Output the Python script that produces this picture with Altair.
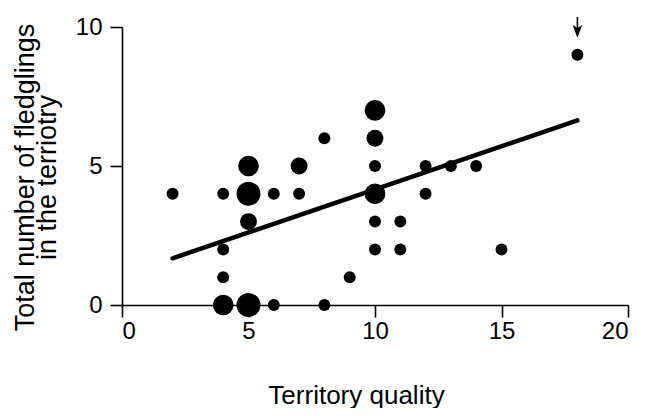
import altair as alt
import pandas as pd

# Territory quality (x), total fledglings (y), number of territories at that point (n)
quality = [2, 4, 4, 4, 4, 5, 5, 5, 5, 6, 6, 7, 7, 8, 8, 9,
           10, 10, 10, 10, 10, 10, 11, 11, 12, 12, 13, 14, 15, 18]
fledglings = [4, 4, 2, 1, 0, 5, 4, 3, 0, 4, 0, 5, 4, 6, 0, 1,
              7, 6, 5, 4, 3, 2, 3, 2, 5, 4, 5, 5, 2, 9]
count = [1, 1, 1, 1, 3, 3, 4, 2, 4, 1, 1, 2, 1, 1, 1, 1,
         3, 2, 1, 3, 1, 1, 1, 1, 1, 1, 1, 1, 1, 1]

# Fitted regression line end points
fit_x = [2, 18]
fit_y = [1.68, 6.64]

# Arrow marking the outlier territory
arrow_x = [18]
arrow_top = [10.36]
arrow_tip = [9.85]

x_ticks = [0, 5, 10, 15, 20]
y_ticks = [0, 5, 10]

FONT = "Liberation Sans"

pts = pd.DataFrame({"q": quality, "f": fledglings, "n": count})
fit = pd.DataFrame({"q": fit_x, "f": fit_y})
arr = pd.DataFrame({"q": arrow_x, "top": arrow_top, "tip": arrow_tip})

xscale = alt.Scale(domain=[0, 20], nice=False)
yscale = alt.Scale(domain=[0, 10], nice=False)

xaxis = alt.Axis(values=x_ticks, title="Territory quality", grid=False,
                 tickSize=12, labelPadding=2, titleX=234, titleY=98,
                 titleBaseline="alphabetic", titleAnchor="start", titleAlign="center",
                 titleFontSize=26)
yaxis = alt.Axis(values=y_ticks, title=["Total number of  fledglings", "in the terriotry"],
                 grid=False, tickSize=12, labelPadding=8,
                 titleX=-89, titleY=150, titleBaseline="alphabetic", titleAnchor="start",
                 titleAlign="center", titleAngle=270, titleLineHeight=22,
                 titleFontSize=27)

points = alt.Chart(pts).mark_circle(color="black", opacity=1).encode(
    x=alt.X("q:Q", scale=xscale, axis=xaxis),
    y=alt.Y("f:Q", scale=yscale, axis=yaxis),
    size=alt.Size("n:Q", scale=alt.Scale(domain=[0, 4], range=[0, 572]), legend=None),
)

line = alt.Chart(fit).mark_line(color="black", strokeWidth=4.5, strokeCap="round").encode(
    x=alt.X("q:Q", scale=xscale),
    y=alt.Y("f:Q", scale=yscale),
)

shaft = alt.Chart(arr).mark_rule(color="black", strokeWidth=1.6).encode(
    x=alt.X("q:Q", scale=xscale),
    y=alt.Y("top:Q", scale=yscale),
    y2="tip:Q",
)

head = alt.Chart(arr).mark_point(
    shape="M0,1 L-0.75,-1 L0,-0.45 L0.75,-1 Z",
    filled=True, color="black", opacity=1, size=169,
).encode(
    x=alt.X("q:Q", scale=xscale),
    y=alt.Y("tip:Q", scale=yscale),
)

chart = alt.layer(points, line, shaft, head).properties(
    width=506, height=278,
    padding={"left": 114, "top": 19, "right": 14, "bottom": 103},
    autosize=alt.AutoSizeParams(type="none"),
    background="white",
).configure_view(strokeWidth=0).configure_axis(
    domainColor="black", domainWidth=1.6, tickColor="black", tickWidth=1.6,
    labelColor="black", titleColor="black", labelFont=FONT, titleFont=FONT,
    labelFontSize=24, titleFontWeight="normal",
)

chart.save("out.html", embed_options={"renderer": "svg", "actions": False})
